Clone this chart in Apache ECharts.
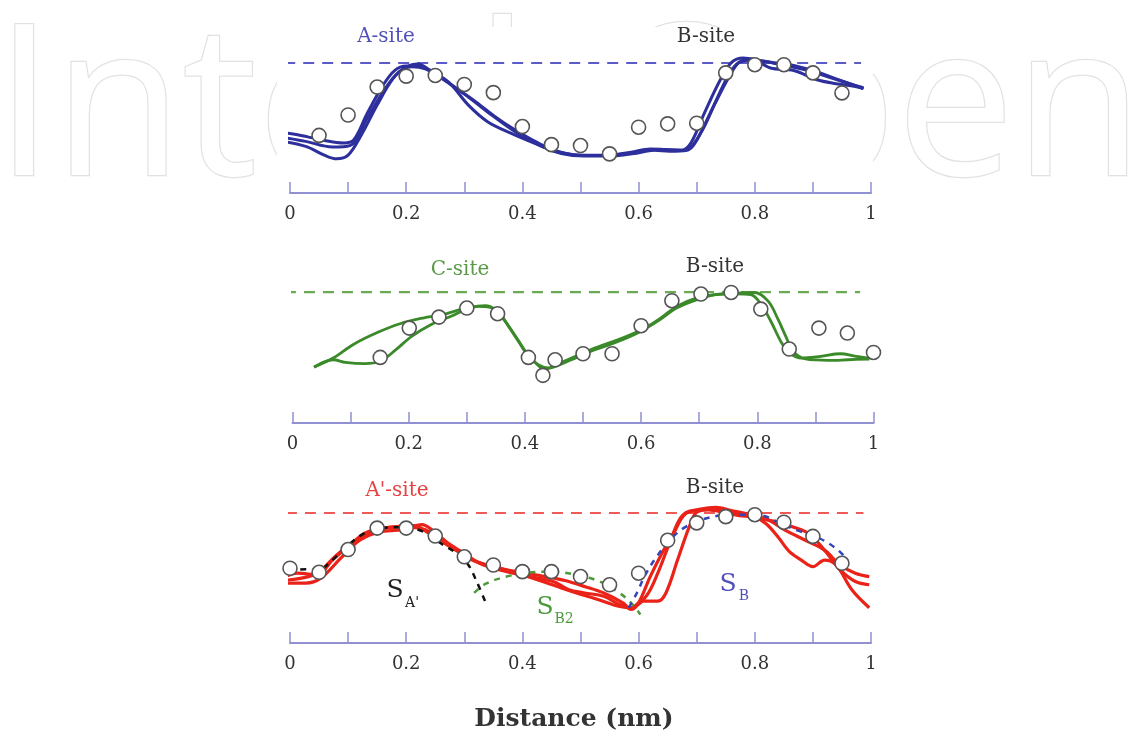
<!DOCTYPE html>
<html><head><meta charset="utf-8">
<script src="https://cdn.jsdelivr.net/npm/echarts@6/dist/echarts.min.js"></script>
<style>html,body{margin:0;padding:0;background:#fff}#c{width:1143px;height:734px}</style>
</head><body><div id="c"></div>
<script>
// ---------- DATA ----------
const xTickLabels = ['0', '0.2', '0.4', '0.6', '0.8', '1'];
const siteLabels = ['A-site', 'B-site', 'C-site', 'B-site', "A'-site", 'B-site'];
const axisTitle = 'Distance (nm)';

// Panel 1 (A-site / B-site): measured circles at x = 0.05 .. 0.95
const p1CircleX = [0.05,0.10,0.15,0.20,0.25,0.30,0.35,0.40,0.45,0.50,0.55,0.60,0.65,0.70,0.75,0.80,0.85,0.90,0.95];
const p1CircleY = [0.443,0.60,0.815,0.899,0.904,0.835,0.772,0.511,0.372,0.365,0.301,0.506,0.532,0.537,0.924,0.987,0.987,0.924,0.77];
const p1Curve1 = [[-0.023,0.473],[0.013,0.448],[0.053,0.41],[0.093,0.385],[0.11,0.41],[0.133,0.613],[0.16,0.828],[0.18,0.942],[0.20,0.977],[0.22,0.977],[0.253,0.904],[0.287,0.803],[0.32,0.701],[0.353,0.587],[0.387,0.486],[0.427,0.385],[0.46,0.322],[0.50,0.291],[0.547,0.291],[0.587,0.314],[0.62,0.339],[0.647,0.334],[0.673,0.329],[0.69,0.385],[0.713,0.613],[0.74,0.866],[0.76,1.005],[0.78,1.038],[0.813,1.013],[0.86,0.987],[0.90,0.942],[0.94,0.878],[0.987,0.803]];
const p1Curve2 = [[-0.023,0.435],[0.027,0.397],[0.073,0.354],[0.103,0.365],[0.133,0.575],[0.16,0.777],[0.187,0.929],[0.21,0.972],[0.233,0.954],[0.267,0.866],[0.307,0.739],[0.347,0.60],[0.387,0.473],[0.433,0.359],[0.467,0.309],[0.507,0.289],[0.553,0.291],[0.587,0.309],[0.62,0.334],[0.653,0.329],[0.68,0.329],[0.70,0.41],[0.727,0.651],[0.753,0.891],[0.773,1.005],[0.80,1.023],[0.84,0.992],[0.887,0.947],[0.927,0.891],[0.973,0.828],[0.987,0.81]];
const p1Curve3 = [[-0.023,0.405],[0.027,0.359],[0.06,0.289],[0.08,0.263],[0.10,0.291],[0.123,0.448],[0.15,0.676],[0.177,0.878],[0.20,0.967],[0.22,0.992],[0.24,0.947],[0.273,0.853],[0.307,0.676],[0.34,0.549],[0.38,0.461],[0.427,0.372],[0.467,0.304],[0.507,0.284],[0.553,0.284],[0.593,0.304],[0.627,0.329],[0.653,0.322],[0.683,0.329],[0.707,0.461],[0.733,0.701],[0.757,0.904],[0.773,1.005],[0.793,1.03],[0.827,0.962],[0.867,0.942],[0.907,0.871],[0.94,0.841],[0.973,0.82],[0.987,0.803]];
const p1RefLine = [[-0.01,1],[0.983,1]];

// Panel 2 (C-site / B-site)
const p2CircleX = [0.151,0.201,0.252,0.30,0.353,0.406,0.431,0.452,0.50,0.55,0.60,0.653,0.703,0.755,0.806,0.855,0.906,0.955,1.0];
const p2CircleY = [0.501,0.725,0.809,0.878,0.835,0.501,0.364,0.483,0.529,0.529,0.743,0.934,0.985,0.997,0.870,0.565,0.725,0.687,0.539];
const p2Curve1 = [[0.037,0.427],[0.07,0.496],[0.104,0.598],[0.144,0.687],[0.185,0.758],[0.225,0.802],[0.258,0.827],[0.292,0.87],[0.319,0.891],[0.339,0.885],[0.356,0.84],[0.372,0.738],[0.389,0.623],[0.406,0.509],[0.423,0.445],[0.44,0.42],[0.46,0.458],[0.487,0.509],[0.52,0.573],[0.56,0.636],[0.601,0.712],[0.634,0.802],[0.661,0.891],[0.695,0.954],[0.728,0.98],[0.762,0.987],[0.789,0.98],[0.805,0.916],[0.822,0.789],[0.842,0.611],[0.856,0.534],[0.876,0.496],[0.909,0.509],[0.943,0.529],[0.97,0.509],[0.993,0.496]];
const p2Curve2 = [[0.037,0.427],[0.07,0.483],[0.091,0.463],[0.124,0.453],[0.151,0.471],[0.178,0.56],[0.205,0.662],[0.238,0.751],[0.272,0.814],[0.305,0.878],[0.332,0.896],[0.349,0.865],[0.366,0.776],[0.386,0.649],[0.403,0.534],[0.416,0.471],[0.433,0.412],[0.453,0.433],[0.48,0.483],[0.513,0.547],[0.554,0.611],[0.594,0.687],[0.628,0.776],[0.661,0.878],[0.695,0.941],[0.728,0.98],[0.768,0.992],[0.795,0.997],[0.819,0.929],[0.836,0.789],[0.849,0.662],[0.862,0.547],[0.883,0.489],[0.923,0.478],[0.956,0.483],[0.993,0.489]];
const p2RefLine = [[-0.013,1],[0.977,1]];

// Panel 3 (A'-site / B-site)
const p3CircleX = [0,0.05,0.10,0.15,0.20,0.25,0.30,0.35,0.40,0.45,0.50,0.55,0.60,0.65,0.70,0.75,0.80,0.85,0.90,0.95];
const p3CircleY = [0.575,0.544,0.719,0.884,0.884,0.823,0.663,0.60,0.549,0.549,0.511,0.448,0.537,0.79,0.924,0.972,0.987,0.929,0.82,0.613];
const p3Red1 = [[-0.013,0.499],[0.013,0.537],[0.047,0.524],[0.073,0.638],[0.10,0.739],[0.127,0.841],[0.153,0.878],[0.18,0.891],[0.207,0.891],[0.233,0.871],[0.253,0.815],[0.28,0.739],[0.307,0.651],[0.34,0.60],[0.373,0.562],[0.407,0.537],[0.44,0.511],[0.473,0.481],[0.507,0.435],[0.54,0.385],[0.573,0.309],[0.587,0.258],[0.60,0.309],[0.62,0.511],[0.64,0.689],[0.66,0.841],[0.68,0.992],[0.707,1.03],[0.733,1.043],[0.76,1.018],[0.787,0.992],[0.813,0.954],[0.84,0.929],[0.867,0.891],[0.893,0.841],[0.92,0.714],[0.947,0.562],[0.973,0.473],[0.997,0.448]];
const p3Red2 = [[-0.013,0.481],[0.02,0.499],[0.047,0.537],[0.08,0.676],[0.113,0.79],[0.147,0.866],[0.173,0.891],[0.213,0.904],[0.24,0.841],[0.267,0.765],[0.30,0.676],[0.333,0.60],[0.373,0.549],[0.413,0.511],[0.453,0.473],[0.48,0.41],[0.507,0.385],[0.54,0.359],[0.567,0.296],[0.587,0.271],[0.613,0.359],[0.633,0.537],[0.653,0.765],[0.673,0.967],[0.693,1.018],[0.72,1.023],[0.747,1.005],[0.773,0.98],[0.80,0.967],[0.82,0.916],[0.84,0.815],[0.86,0.701],[0.88,0.638],[0.90,0.587],[0.92,0.638],[0.94,0.60],[0.967,0.41],[0.997,0.271]];
const p3Red3 = [[-0.013,0.461],[0.027,0.461],[0.053,0.499],[0.087,0.651],[0.12,0.79],[0.153,0.853],[0.193,0.871],[0.227,0.911],[0.247,0.861],[0.273,0.765],[0.30,0.689],[0.327,0.613],[0.36,0.575],[0.40,0.524],[0.44,0.466],[0.467,0.423],[0.493,0.385],[0.527,0.339],[0.56,0.289],[0.587,0.271],[0.607,0.322],[0.633,0.322],[0.647,0.385],[0.667,0.638],[0.687,0.891],[0.70,1.005],[0.727,1.03],[0.753,1.005],[0.787,0.98],[0.82,0.954],[0.853,0.866],[0.887,0.79],[0.92,0.714],[0.947,0.60],[0.973,0.537],[0.997,0.511]];
const p3FitSA = [[-0.003,0.557],[0.027,0.567],[0.047,0.557],[0.073,0.638],[0.10,0.752],[0.127,0.841],[0.16,0.886],[0.193,0.891],[0.227,0.861],[0.26,0.765],[0.287,0.689],[0.307,0.60],[0.32,0.486],[0.337,0.309]];
const p3FitSB2 = [[0.317,0.385],[0.337,0.456],[0.373,0.511],[0.413,0.542],[0.453,0.549],[0.493,0.524],[0.533,0.473],[0.567,0.385],[0.587,0.309],[0.603,0.22]];
const p3FitSB = [[0.583,0.271],[0.597,0.385],[0.613,0.537],[0.633,0.676],[0.653,0.79],[0.68,0.891],[0.707,0.947],[0.74,0.98],[0.773,0.987],[0.813,0.98],[0.84,0.929],[0.873,0.866],[0.907,0.815],[0.94,0.727],[0.96,0.638]];
const p3RefLine = [[-0.007,1],[0.987,1]];

// ---------- CHART ----------
const SERIF = '"DejaVu Serif", "Liberation Serif", serif';
const axisCol = '#9090d2';
const chart = echarts.init(document.getElementById('c'), null, {renderer: 'canvas'});

function xAxisFor(i) {
  return {
    type: 'value', gridIndex: i, min: 0, max: 1, interval: 0.1,
    axisLine: {show: true, onZero: false, lineStyle: {color: axisCol, width: 2}},
    axisTick: {show: true, inside: true, length: 11, lineStyle: {color: axisCol, width: 1.5}},
    splitLine: {show: false},
    axisLabel: {
      color: '#333', fontFamily: SERIF, fontSize: 18, margin: 12,
      showMinLabel: true, showMaxLabel: true,
      formatter: function (v) { const k = Math.round(v * 10); return k % 2 === 0 ? xTickLabels[k / 2] : ''; }
    }
  };
}
function yAxisFor(i) {
  return {type: 'value', gridIndex: i, min: 0, max: 1.1, show: false};
}
function lineS(i, data, color, width, type, z) {
  return {type: 'line', xAxisIndex: i, yAxisIndex: i, data: data, smooth: 0.35, symbol: 'none',
    clip: false, silent: true, z: z || 3,
    lineStyle: {color: color, width: width, type: type || 'solid'}};
}
function refS(i, data, color) {
  return {type: 'line', xAxisIndex: i, yAxisIndex: i, data: data, symbol: 'none', clip: false, silent: true,
    z: 2, lineStyle: {color: color, width: 2.2, type: [11, 8]}};
}
function circS(i, xs, ys) {
  return {type: 'scatter', xAxisIndex: i, yAxisIndex: i, data: xs.map((x, k) => [x, ys[k]]),
    symbol: 'circle', symbolSize: 14, clip: false, silent: true, z: 10,
    itemStyle: {color: '#fff', borderColor: '#555', borderWidth: 1.6, opacity: 1}};
}

const blue = '#2d2f9c', green = '#3b8a2a', red = '#ea2218';
function txt(x, y, text, color, size, weight) {
  return {type: 'text', x: x, y: y, z: 20,
    style: {text: text, fill: color, font: (weight || 'normal') + ' ' + size + 'px ' + SERIF, align: 'center', verticalAlign: 'middle'}};
}

const option = {
  animation: false,
  backgroundColor: '#fff',
  grid: [
    {left: 290, top: 50, width: 581, height: 143},
    {left: 292.5, top: 279, width: 581, height: 144},
    {left: 290, top: 500, width: 581, height: 143}
  ],
  xAxis: [xAxisFor(0), xAxisFor(1), xAxisFor(2)],
  yAxis: [yAxisFor(0), yAxisFor(1), yAxisFor(2)],
  graphic: [
    {type: 'text', x: -5, y: 115, z: -5, silent: true,
      style: {text: 'IntechOpen', font: '210px "Open Sans"', fill: '#ffffff', stroke: '#e2e2e2', lineWidth: 2.5, verticalAlign: 'middle'}},
    {type: 'rect', z: -4, silent: true, shape: {x: 277, y: 27, width: 596, height: 680}, style: {fill: '#fff'}},
    txt(386, 37, siteLabels[0], '#5050b8', 20),
    txt(706, 37, siteLabels[1], '#333', 20),
    txt(460, 270, siteLabels[2], '#5a9a48', 20),
    txt(715, 267, siteLabels[3], '#333', 20),
    txt(397, 491, siteLabels[4], '#e84040', 20),
    txt(715, 488, siteLabels[5], '#333', 20),
    txt(574, 719, axisTitle, '#333', 25, 'bold'),
    txt(395, 590, 'S', '#222', 25),
    txt(412, 603, "A'", '#222', 14),
    txt(545, 607, 'S', '#4a9a3a', 25),
    txt(564, 619, 'B2', '#4a9a3a', 14),
    txt(728, 584, 'S', '#5050b8', 25),
    txt(744, 596, 'B', '#5050b8', 14)
  ],
  series: [
    refS(0, p1RefLine, '#5c5cc8'),
    lineS(0, p1Curve1, blue, 3),
    lineS(0, p1Curve2, blue, 3),
    lineS(0, p1Curve3, blue, 3),
    circS(0, p1CircleX, p1CircleY),

    refS(1, p2RefLine, '#6aaa55'),
    lineS(1, p2Curve1, green, 2.8),
    lineS(1, p2Curve2, green, 2.8),
    circS(1, p2CircleX, p2CircleY),

    refS(2, p3RefLine, '#ee5a55'),
    lineS(2, p3Red1, red, 3.2),
    lineS(2, p3Red2, red, 3.2),
    lineS(2, p3Red3, red, 3.2),
    lineS(2, p3FitSA, '#111', 2.5, [6, 6], 5),
    lineS(2, p3FitSB2, '#4a9a3a', 2.5, [6, 6], 5),
    lineS(2, p3FitSB, '#3344bb', 2.5, [6, 6], 5),
    circS(2, p3CircleX, p3CircleY)
  ]
};
chart.setOption(option);
</script></body></html>
